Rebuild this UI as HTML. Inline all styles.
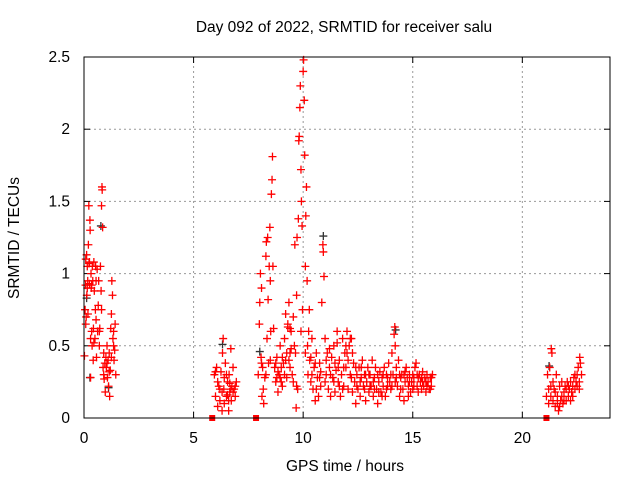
<!DOCTYPE html>
<html><head><meta charset="utf-8"><style>
body{margin:0;background:#fff;}
svg{display:block;font-family:"Liberation Sans",sans-serif;}
</style></head><body>
<svg id="chart" width="640" height="480">
<text x="344" y="32" text-anchor="middle" font-size="15.5">Day 092 of 2022, SRMTID for receiver salu</text>
<text x="345" y="471" text-anchor="middle" font-size="15.5">GPS time / hours</text>
<text transform="translate(19,238) rotate(-90)" text-anchor="middle" font-size="15.5">SRMTID / TECUs</text>
<g id="grid"></g><g id="ticks"></g><g id="marks"></g>
<rect x="84" y="57" width="526" height="361" fill="none" stroke="#000"/>
</svg>
<script>
const xTicks=[0,5,10,15,20];
const yTicks=[0,0.5,1,1.5,2,2.5];
const yTickLabels=["0","0.5","1","1.5","2","2.5"];
const blackPts=[[0.1,0.82],[0.25,0.27],[0.75,1.32],[1.1,0.2],[6.3,0.5],[8.0,0.45],[10.9,1.25],[14.2,0.6],[21.2,0.35]];
const redA=[[0.02,0.43],[0.05,0.75],[0.07,0.92],[0.08,1.1],[0.1,0.7],[0.12,1.13],[0.13,0.85],[0.15,1.05],[0.17,0.95],[0.18,0.72],[0.2,1.2],[0.22,1.47],[0.23,1.07],[0.25,0.93],[0.27,1.37],[0.28,1.3],[0.3,0.55],[0.3,0.28],[0.32,1.0],[0.33,0.9],[0.35,0.6],[0.37,0.5],[0.38,1.05],[0.4,0.95],[0.42,0.4],[0.43,0.62],[0.45,1.08],[0.47,0.88],[0.5,0.55],[0.52,0.75],[0.53,1.05],[0.55,0.68],[0.57,0.42],[0.6,1.03],[0.08,0.65],[0.15,0.9],[0.25,1.08],[0.35,0.92],[0.45,0.52],[0.55,0.95]];
const redB=[[0.62,0.6],[0.65,0.78],[0.67,0.95],[0.7,0.5],[0.72,0.62],[0.75,1.05],[0.78,0.88],[0.8,1.47],[0.82,1.6],[0.83,1.58],[0.85,1.32],[0.87,0.35],[0.9,0.45],[0.92,0.27],[0.95,0.38],[0.97,0.18],[1.0,0.42],[0.7,0.6],[0.8,0.75],[0.9,0.3]];
const redC=[[1.02,0.35],[1.05,0.5],[1.07,0.28],[1.1,0.4],[1.12,0.22],[1.15,0.45],[1.17,0.15],[1.2,0.33],[1.22,0.62],[1.25,0.72],[1.27,0.95],[1.3,0.85],[1.32,0.55],[1.35,0.6],[1.37,0.4],[1.4,0.47],[1.42,0.65],[1.45,0.3],[1.05,0.38],[1.15,0.32],[1.25,0.42],[1.35,0.5]];
const redD=[[5.95,0.3],[6.0,0.15],[6.05,0.35],[6.1,0.08],[6.15,0.22],[6.2,0.12],[6.25,0.32],[6.3,0.05],[6.32,0.45],[6.35,0.55],[6.38,0.2],[6.4,0.1],[6.45,0.38],[6.5,0.15],[6.55,0.25],[6.6,0.05],[6.62,0.3],[6.65,0.18],[6.7,0.48],[6.72,0.12],[6.75,0.22],[6.8,0.35],[6.85,0.2],[6.9,0.15],[6.95,0.25],[6.1,0.25],[6.3,0.18],[6.5,0.3],[6.7,0.2],[6.0,0.32],[6.2,0.2],[6.4,0.28],[6.6,0.12],[6.8,0.18],[6.9,0.22],[6.55,0.16],[6.65,0.24]];
const redE=[[7.95,0.3],[8.0,0.65],[8.02,0.8],[8.05,1.0],[8.08,0.42],[8.1,0.9],[8.12,0.15],[8.15,0.35],[8.18,0.2],[8.2,0.1],[8.25,0.28],[8.3,1.12],[8.32,1.22],[8.35,0.55],[8.38,1.25],[8.4,0.82],[8.42,0.38],[8.45,1.05],[8.48,1.32],[8.5,0.95],[8.52,0.6],[8.55,1.55],[8.58,1.65],[8.6,1.81],[8.62,1.05],[8.65,0.62],[8.1,0.38],[8.3,0.3],[8.5,0.4]];
const redF=[[8.7,0.35],[8.75,0.25],[8.8,0.42],[8.85,0.18],[8.9,0.3],[8.95,0.5],[9.0,0.35],[9.05,0.22],[9.1,0.38],[9.15,0.55],[9.2,0.72],[9.25,0.28],[9.3,0.63],[9.35,0.8],[9.4,0.45],[9.45,0.6],[9.5,0.3],[9.55,0.7],[9.6,0.5],[8.8,0.28],[9.0,0.25],[9.2,0.4],[9.4,0.35],[8.75,0.38],[8.85,0.32],[8.95,0.28],[9.05,0.42],[9.15,0.3],[9.25,0.45],[9.35,0.4],[9.45,0.48],[9.55,0.25],[9.3,0.65],[9.4,0.62]];
const redG=[[9.62,1.2],[9.65,0.45],[9.68,0.07],[9.7,0.85],[9.72,1.25],[9.75,0.2],[9.78,1.38],[9.8,1.92],[9.82,1.95],[9.85,2.15],[9.87,2.3],[9.9,1.72],[9.92,1.5],[9.95,1.33],[9.97,0.75],[10.0,2.4],[10.02,2.48],[10.05,2.2],[10.07,1.82],[10.1,1.05],[10.12,1.4],[10.15,1.6],[10.18,0.95],[10.2,0.5],[10.22,0.3],[10.25,0.6],[10.28,0.75],[9.7,0.22],[9.9,0.6],[10.1,0.45]];
const redH=[[10.3,0.4],[10.35,0.25],[10.4,0.55],[10.45,0.2],[10.5,0.35],[10.55,0.12],[10.6,0.45],[10.65,0.28],[10.7,0.15],[10.75,0.38],[10.8,0.22],[10.85,0.8],[10.9,1.2],[10.92,1.15],[10.95,0.98],[11.0,0.55],[11.05,0.3],[11.1,0.45],[11.15,0.2],[11.2,0.35],[11.25,0.15],[11.3,0.42],[11.35,0.28],[11.4,0.5],[11.45,0.18],[11.5,0.33],[11.55,0.6],[11.6,0.25],[11.65,0.4],[11.7,0.15],[11.75,0.3],[11.8,0.55],[11.85,0.22],[11.9,0.45],[11.95,0.35],[12.0,0.6],[12.05,0.2],[12.1,0.5],[12.15,0.3],[12.2,0.55],[12.25,0.18],[12.3,0.38],[12.35,0.25],[12.4,0.1],[12.45,0.3],[12.5,0.2],[12.55,0.35],[12.6,0.15],[12.65,0.28],[12.7,0.4],[12.75,0.22],[12.8,0.3],[12.85,0.12],[12.9,0.25],[12.95,0.35],[13.0,0.18],[13.05,0.3],[13.1,0.22],[13.15,0.4],[13.2,0.15],[13.25,0.28],[13.3,0.35],[13.35,0.2],[13.4,0.1],[13.45,0.25],[13.5,0.32],[13.55,0.18],[13.6,0.28],[13.65,0.22],[13.7,0.35],[13.75,0.15],[13.8,0.3],[13.85,0.22],[13.9,0.38],[13.95,0.25],[14.0,0.2],[14.05,0.45],[14.1,0.3],[14.15,0.58],[14.18,0.63],[14.2,0.5],[14.25,0.35],[14.3,0.22],[14.35,0.4],[14.4,0.15],[14.45,0.28],[14.5,0.3],[14.55,0.2],[14.6,0.12],[14.65,0.25],[14.7,0.35],[14.75,0.28],[14.8,0.22],[14.85,0.3],[14.9,0.18],[14.95,0.25],[15.0,0.2],[15.05,0.28],[15.1,0.35],[15.15,0.38],[15.2,0.22],[15.25,0.18],[15.3,0.3],[15.35,0.25],[15.4,0.2],[15.45,0.32],[15.5,0.22],[15.55,0.28],[15.6,0.18],[15.65,0.3],[15.7,0.25],[15.75,0.2],[15.8,0.28],[15.85,0.22],[15.9,0.3],
[10.4,0.3],[10.6,0.2],[10.8,0.32],[11.0,0.25],[11.2,0.48],[11.4,0.25],[11.6,0.35],[11.8,0.2],[12.0,0.45],[12.2,0.28],[12.4,0.35],[12.6,0.25],[12.8,0.2],[13.0,0.3],[13.2,0.25],[13.4,0.3],[13.6,0.15],[13.8,0.2],[14.0,0.3],[14.2,0.25],[14.4,0.3],[14.6,0.3],[14.8,0.15],[15.0,0.3],[15.2,0.3],[15.4,0.28],[15.6,0.25],[15.8,0.2],
[10.35,0.42],[10.55,0.38],[10.75,0.28],[11.05,0.4],[11.25,0.3],[11.45,0.38],[11.65,0.22],[11.85,0.35],[12.05,0.4],[12.25,0.45],[12.45,0.22],[12.65,0.35],[12.85,0.3],[13.05,0.22],[13.25,0.2],[13.45,0.18],[13.65,0.3],[13.85,0.28],[14.05,0.22],[14.25,0.28],[14.45,0.2],[14.65,0.32],[14.85,0.25],[15.05,0.22],[15.25,0.28],[15.45,0.25],[15.65,0.22],[15.85,0.28],[11.55,0.52],[12.15,0.55],[11.95,0.5]];
const redI=[[21.1,0.15],[21.15,0.3],[21.2,0.1],[21.25,0.35],[21.3,0.22],[21.32,0.48],[21.35,0.45],[21.4,0.12],[21.45,0.2],[21.5,0.08],[21.55,0.3],[21.6,0.15],[21.65,0.05],[21.7,0.22],[21.75,0.12],[21.8,0.25],[21.85,0.1],[21.9,0.18],[21.95,0.22],[22.0,0.12],[22.05,0.25],[22.1,0.15],[22.15,0.2],[22.2,0.25],[22.25,0.18],[22.3,0.22],[22.35,0.28],[22.4,0.2],[22.45,0.25],[22.5,0.3],[22.55,0.35],[22.6,0.25],[22.62,0.42],[22.65,0.38],[22.7,0.3],[21.2,0.2],[21.4,0.25],[21.6,0.1],[21.8,0.15],[22.0,0.2],[22.2,0.12],[22.4,0.3],[22.6,0.2],[21.3,0.15],[21.5,0.18],[21.7,0.08],[21.9,0.12],[22.1,0.22],[22.3,0.15],[22.5,0.22]];
const zeroMarks=[5.85,7.85,21.1];

const NS="http://www.w3.org/2000/svg";
const X0=84,X1=610,Y0=418,Y1=57,XMAX=24,YMAX=2.5;
function xs(t){return X0+(X1-X0)*t/XMAX;}
function ys(v){return Y0-(Y0-Y1)*v/YMAX;}
function mk(tag,attrs,parent){const e=document.createElementNS(NS,tag);for(const k in attrs)e.setAttribute(k,attrs[k]);parent.appendChild(e);return e;}
const grid=document.getElementById('grid'),ticks=document.getElementById('ticks'),marks=document.getElementById('marks');
xTicks.forEach(t=>{const x=xs(t);
 if(t>0){const g=mk('line',{x1:x,x2:x,y1:Y0,y2:Y1,stroke:'#999','stroke-dasharray':'2,3'},grid);
 
 }
 mk('line',{x1:x,x2:x,y1:Y0,y2:Y0-6,stroke:'#000'},ticks);
 mk('line',{x1:x,x2:x,y1:Y1,y2:Y1+6,stroke:'#000'},ticks);
 const l=mk('text',{x:x,y:Y0+25,'text-anchor':'middle','font-size':15.5},ticks);l.textContent=t;
 
 });
yTicks.forEach((v,i)=>{const y=ys(v);
 if(v>0&&v<YMAX){const g=mk('line',{x1:X0,x2:X1,y1:y,y2:y,stroke:'#999','stroke-dasharray':'2,3'},grid);
 
 }
 mk('line',{x1:X0,x2:X0+6,y1:y,y2:y,stroke:'#000'},ticks);
 mk('line',{x1:X1,x2:X1-6,y1:y,y2:y,stroke:'#000'},ticks);
 const l=mk('text',{x:X0-14,y:y+5,'text-anchor':'end','font-size':15.5},ticks);l.textContent=yTickLabels[i];
 
 });
function plus(p,color,name){const x=xs(p[0]),y=ys(p[1]);
 const e=mk('path',{d:`M${x-4},${y}h8M${x},${y-4}v8`,stroke:color,'stroke-width':1.3,fill:'none'},marks);
 
 }
blackPts.forEach(p=>plus([p[0]+0.02,p[1]+0.01],'#333','reference-point'));
[redA,redB,redC,redD,redE,redF,redG,redH,redI].forEach(arr=>arr.forEach(p=>plus(p,'#f00','srmtid-point')));
zeroMarks.forEach(t=>{const r=mk('rect',{x:xs(t)-3,y:ys(0)-3,width:6,height:6,fill:'#f00'},marks);
 
 });
</script>
</body></html>
